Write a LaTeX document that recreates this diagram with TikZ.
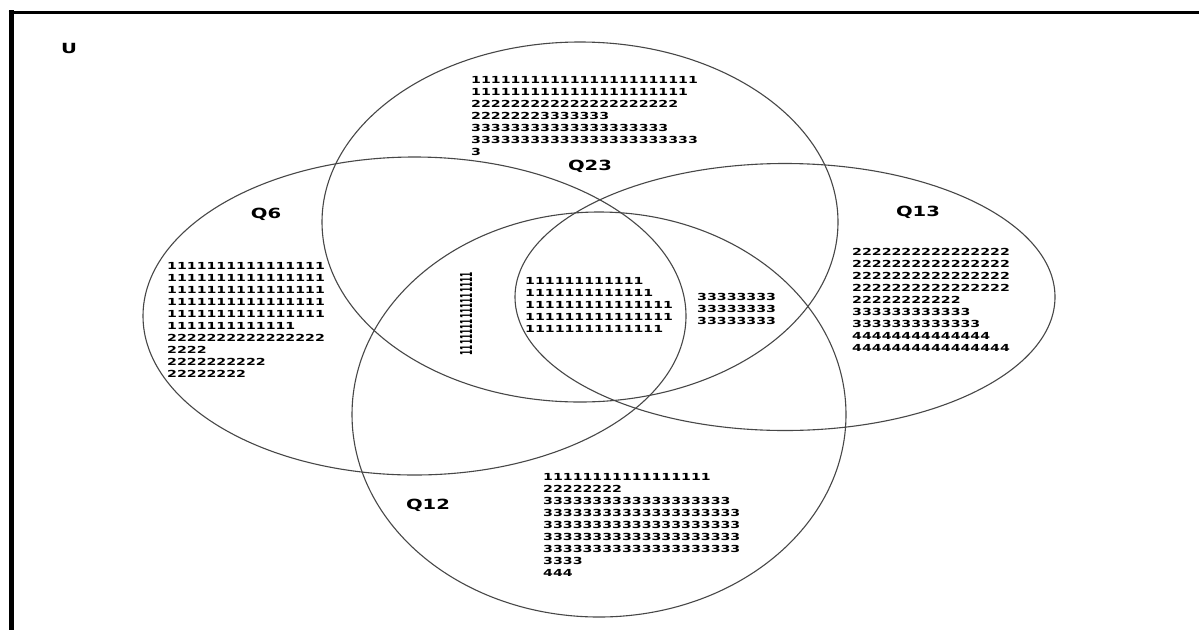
\documentclass[tikz,border=0pt]{standalone}
\usepackage{fontspec}
\usetikzlibrary{shapes.geometric}
\newfontfamily\dg{DejaVu Sans}[FakeStretch=1.46]
\newfontfamily\lb{DejaVu Sans}[FakeStretch=1.4]
\newfontfamily\dgplain{DejaVu Sans}
\begin{document}
\begin{tikzpicture}[x=1pt,y=-1pt,
  venn/.style={ellipse, draw=black!72, line width=1.1pt, inner sep=0pt},
  digits/.style={anchor=north west, inner sep=0pt, align=left, font=\dg\bfseries\fontsize{9.7}{12}\selectfont},
  lbl/.style={inner sep=0pt, font=\lb\bfseries\fontsize{14}{16}\selectfont},
  frameline/.style={draw=black}]
\useasboundingbox (0,0) rectangle (1199,630);
\fill[white] (0,0) rectangle (1199,630);
% frame (top and left only)
\coordinate (tr) at (1199,12.5);
\coordinate (bl) at (11,630);
\draw[frameline, line width=3pt] (8.5,12.5) -- (tr);
\draw[frameline, line width=5pt] (11,10) -- (bl);
% ellipses
\node[venn, minimum width=516pt, minimum height=360pt] (q23) at (580,222) {};
\node[venn, minimum width=543pt, minimum height=318pt] (q6) at (414.5,316) {};
\node[venn, minimum width=540pt, minimum height=267pt] (q13) at (785,297) {};
\node[venn, minimum width=494pt, minimum height=405pt] (q12) at (599,414.5) {};
% labels
\node[lbl] (u) at (69,48) {U};
\node[lbl] (l23) at (590,166) {Q23};
\node[lbl] (l6) at (266,214) {Q6};
\node[lbl] (l13) at (918,212) {Q13};
\node[lbl] (l12) at (428,505) {Q12};
% texts
\node[digits] (t23) at (471,76) {11111111111111111111111\\
1111111111111111111111\\
222222222222222222222\\
22222223333333\\
33333333333333333333\\
33333333333333333333333\\
3};
\node[digits] (t6) at (167,262) {1111111111111111\\
1111111111111111\\
1111111111111111\\
1111111111111111\\
1111111111111111\\
1111111111111\\
2222222222222222\\
2222\\
2222222222\\
22222222};
\node[digits] (tmid) at (525,277) {111111111111\\
1111111111111\\
111111111111111\\
111111111111111\\
11111111111111};
\node[digits] (tr3) at (697,293) {33333333\\
33333333\\
33333333};
\node[digits] (t13) at (852,248) {2222222222222222\\
2222222222222222\\
2222222222222222\\
2222222222222222\\
22222222222\\
333333333333\\
3333333333333\\
44444444444444\\
4444444444444444};
\node[digits] (t12) at (543,473) {11111111111111111\\
22222222\\
3333333333333333333\\
33333333333333333333\\
33333333333333333333\\
33333333333333333333\\
33333333333333333333\\
3333\\
444};
\node[inner sep=0pt, anchor=north west] (tvert) at (460,272)
  {\resizebox*{12pt}{83pt}{\rotatebox{90}{\dgplain\bfseries 1111111111111111}}};
\end{tikzpicture}
\end{document}
